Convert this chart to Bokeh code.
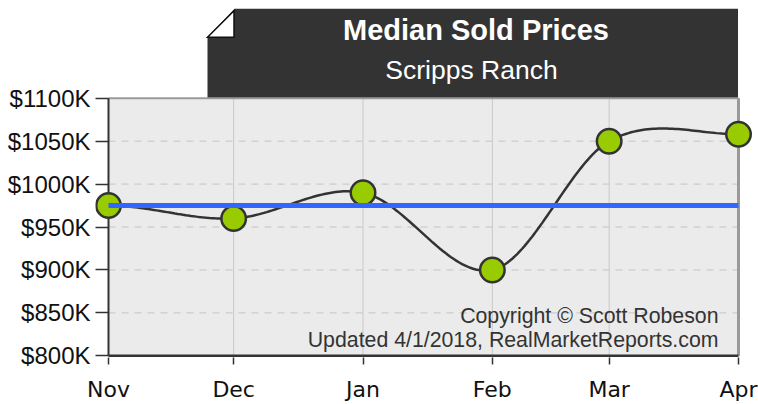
import numpy as np
from bokeh.plotting import figure
from bokeh.models import Range1d, FixedTicker
from bokeh.core.properties import value
from bokeh.embed import file_html
from bokeh.resources import INLINE

# ---------------- data ----------------
months = ["Nov", "Dec", "Jan", "Feb", "Mar", "Apr"]
day_offsets = [0, 30, 61, 92, 120, 151]          # days since Nov 1
median_k = [975, 960, 990, 900, 1050, 1058]       # median sold price, $K
benchmark_k = 975                                 # flat reference line, $K
y_ticks = [800, 850, 900, 950, 1000, 1050, 1100]
y_tick_labels = ["$800K", "$850K", "$900K", "$950K", "$1000K", "$1050K", "$1100K"]
title_text = "Median Sold Prices"
subtitle_text = "Scripps Ranch"
credit_lines = ["Copyright \u00a9 Scott Robeson", "Updated 4/1/2018, RealMarketReports.com"]

# ---------------- layout (page pixels) ----------------
W, H = 758, 404
OFF = 0                      # figure origin on the page
FRAME_L = 95                 # frame left (figure px)
FRAME_B = 359                # frame bottom (figure px)
X_FIRST_PG, X_LAST_PG = 108.0, 738.0
Y_LO_PG, Y_HI_PG = 357.3, 98.3

x_first, x_last = day_offsets[0], day_offsets[-1]
y_min, y_max = y_ticks[0], y_ticks[-1]
X_PX = (X_LAST_PG - X_FIRST_PG) / (x_last - x_first)
Y_PX = (Y_LO_PG - Y_HI_PG) / (y_max - y_min)


def dx(pg):
    return x_first + (pg - X_FIRST_PG) / X_PX


def dy(pg):
    return y_min + (Y_LO_PG - pg) / Y_PX


x_lo = dx(OFF + FRAME_L)
x_hi = dx(OFF + W)
y_lo = dy(OFF + FRAME_B)
y_hi = dy(OFF)

p = figure(width=W, height=H, x_range=Range1d(x_lo, x_hi), y_range=Range1d(y_lo, y_hi),
           output_backend="svg", toolbar_location=None,
           min_border_left=FRAME_L, min_border_right=0, min_border_top=0,
           min_border_bottom=H - FRAME_B,
           background_fill_color="white", border_fill_color="white",
           outline_line_color=None)
p.grid.visible = False

# x axis
xa = p.xaxis[0]
xa.ticker = FixedTicker(ticks=day_offsets)
xa.major_label_overrides = {d: m for d, m in zip(day_offsets, months)}
xa.axis_line_color = None
xa.major_tick_out = 7
xa.major_tick_in = 0
xa.minor_tick_line_color = None
xa.major_tick_line_color = "#333333"
xa.major_tick_line_width = 1.5
xa.major_label_standoff = 12
xa.major_label_text_font = "DejaVu Sans"
xa.major_label_text_font_size = "22px"
xa.major_label_text_color = "#111111"

# y axis
ya = p.yaxis[0]
ya.ticker = FixedTicker(ticks=y_ticks)
ya.major_label_overrides = {t: s for t, s in zip(y_ticks, y_tick_labels)}
ya.axis_line_color = None
ya.major_tick_out = 0
ya.major_tick_in = int(round(X_FIRST_PG - (OFF + FRAME_L)))
ya.minor_tick_line_color = None
ya.major_tick_line_color = "#333333"
ya.major_tick_line_width = 1.5
ya.major_label_standoff = 5
ya.major_label_text_font = "Liberation Sans"
ya.major_label_text_font_size = "24px"
ya.major_label_text_color = "#111111"

# plot area background
p.quad(left=x_first, right=x_last, bottom=y_min, top=y_max,
       fill_color="#ebebeb", line_color=None)

# grid lines
inner_x = day_offsets[1:-1]
p.segment(x0=inner_x, x1=inner_x, y0=[y_min] * len(inner_x), y1=[y_max] * len(inner_x),
          line_color="#c8c8c8", line_width=1)
inner_y = y_ticks[1:-1]
p.segment(x0=[x_first] * len(inner_y), x1=[x_last] * len(inner_y), y0=inner_y, y1=inner_y,
          line_color="#c4c4c4", line_width=1, line_dash="7 6")

# title box with folded corner
box_l, box_r, fold_x, fold_y = 207.0, 737.5, 234.0, 37.0
top_pg = 8.3
p.patch(x=[dx(box_l), dx(fold_x), dx(box_r), dx(box_r), dx(box_l)],
        y=[dy(fold_y), dy(top_pg), dy(top_pg), dy(Y_HI_PG), dy(Y_HI_PG)],
        fill_color="#333333", line_color=None)
p.patch(x=[dx(box_l), dx(fold_x - 0.5), dx(fold_x - 0.5)],
        y=[dy(fold_y), dy(fold_y), dy(top_pg + 2)],
        fill_color="white", line_color="#111111", line_width=1.5, line_join="miter")

# frame borders
p.segment(x0=[x_first], x1=[x_last], y0=[y_max], y1=[y_max], line_color="#9a9a9a", line_width=2)
p.segment(x0=[x_last], x1=[x_last], y0=[y_min], y1=[y_max], line_color="#9a9a9a", line_width=3)
p.segment(x0=[x_first], x1=[x_first], y0=[y_min], y1=[y_max], line_color="#333333", line_width=2)
p.segment(x0=[x_first], x1=[x_last], y0=[y_min], y1=[y_min], line_color="#333333", line_width=2.5)

# smooth curve through the data (cubic Hermite, neighbour tangents)
xd = np.array(day_offsets, dtype=float)
yv = np.array(median_k, dtype=float)
m = np.zeros_like(yv)
m[1:-1] = (yv[2:] - yv[:-2]) / (xd[2:] - xd[:-2])
cx, cy = [], []
t = np.linspace(0.0, 1.0, 48)
h00 = 2 * t**3 - 3 * t**2 + 1
h10 = t**3 - 2 * t**2 + t
h01 = -2 * t**3 + 3 * t**2
h11 = t**3 - t**2
for i in range(len(xd) - 1):
    h = xd[i + 1] - xd[i]
    cx.extend(list(xd[i] + t * h))
    cy.extend(list(h00 * yv[i] + h10 * h * m[i] + h01 * yv[i + 1] + h11 * h * m[i + 1]))
p.line(cx, cy, line_color="#333333", line_width=2.5)

# points
p.scatter(day_offsets, median_k, marker="circle", size=24.5,
          fill_color="#99cc00", line_color="#333333", line_width=2.5)

# benchmark line
p.line([x_first, x_last], [benchmark_k, benchmark_k], line_color="#3366ff", line_width=5)

# titles (y = vertical centre of capitals)
p.text(x=[dx(475.5)], y=[dy(30)], text=[title_text], text_font=value("Liberation Sans"),
       text_font_size="29px", text_font_style="bold", text_color="white",
       text_align="center", text_baseline="middle")
p.text(x=[dx(471)], y=[dy(69.5)], text=[subtitle_text], text_font=value("Liberation Sans"),
       text_font_size="26.5px", text_color="white",
       text_align="center", text_baseline="middle")

# credits
p.text(x=[dx(718), dx(718)], y=[dy(317), dy(341)], text=credit_lines,
       text_font=value("Liberation Sans"), text_font_size="21.3px", text_color="#333333",
       text_align="right", text_baseline="middle")

open("out.html", "w").write(file_html(p, INLINE))
